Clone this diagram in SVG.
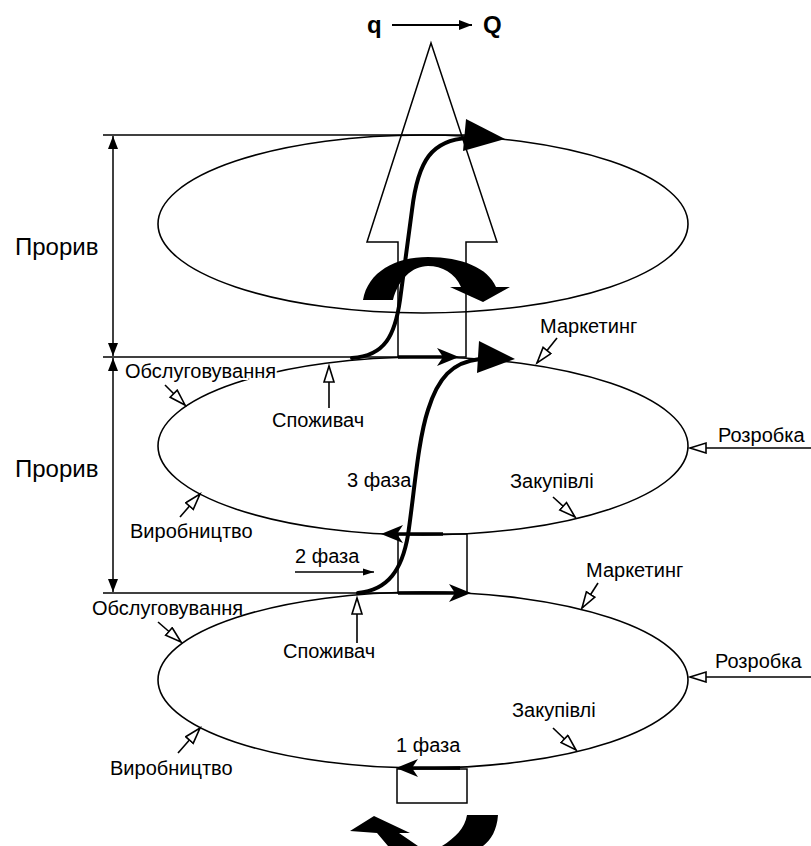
<svg xmlns="http://www.w3.org/2000/svg" width="811" height="846" viewBox="0 0 811 846">
<style>
text{font-family:"Liberation Sans",Arial,sans-serif;font-size:20px;fill:#000}
.big{font-size:24px}
.bold{font-weight:bold;font-size:24px}
.halo{stroke:#fff;stroke-width:4;paint-order:stroke}
.thin{fill:none;stroke:#000;stroke-width:1.5}
.ell{fill:none;stroke:#000;stroke-width:1.6}
.thick{fill:none;stroke:#000;stroke-width:4;stroke-linecap:round}
.hthick{fill:none;stroke:#000;stroke-width:3.5}
.ptr{fill:none;stroke:#000;stroke-width:1.6;marker-end:url(#hollow)}
.dim{fill:none;stroke:#000;stroke-width:1.5;marker-start:url(#solid);marker-end:url(#solid)}
.blk{fill:#000;stroke:none}
</style>
<defs>
<marker id="hollow" markerUnits="userSpaceOnUse" markerWidth="20" markerHeight="14" refX="17" refY="6" orient="auto">
<path d="M1,1 L17,6 L1,11 Z" fill="#fff" stroke="#000" stroke-width="1.6"/>
</marker>
<marker id="solid" markerUnits="userSpaceOnUse" markerWidth="14" markerHeight="10" refX="13" refY="5" orient="auto-start-reverse">
<path d="M0,0 L13,5 L0,10 Z" fill="#000"/>
</marker>
<marker id="small" markerUnits="userSpaceOnUse" markerWidth="12" markerHeight="8" refX="11" refY="4" orient="auto">
<path d="M0,0.5 L11,4 L0,7.5 Z" fill="#000"/>
</marker>
</defs>

<g id="title">
<text class="bold" x="367" y="33">q</text>
<text class="bold" x="483" y="33">Q</text>
<line x1="392" y1="25" x2="472" y2="25" stroke="#000" stroke-width="1.8" marker-end="url(#solid)"/>
</g>

<g id="ellipse-top"><ellipse class="ell" cx="423" cy="224" rx="265" ry="89"/></g>
<g id="ellipse-mid"><ellipse class="ell" cx="423" cy="446" rx="265" ry="89"/></g>
<g id="ellipse-bot"><ellipse class="ell" cx="423" cy="680" rx="265" ry="88"/></g>

<g id="big-arrow">
<polygon class="thin" points="431,43 497,242 466,242 466,357 398,357 398,242 367,242"/>
</g>
<g id="rect-mid"><rect class="thin" x="398" y="534" width="69" height="59"/></g>
<g id="rect-bot"><rect class="thin" x="397" y="769" width="70" height="34"/></g>

<g id="labels">
<text class="big" x="15" y="255">Прорив</text>
<text class="big" x="15" y="477">Прорив</text>
<text class="halo" x="125" y="378">Обслуговування</text>
<text x="272" y="427">Споживач</text>
<text x="540" y="333">Маркетинг</text>
<text x="718" y="442">Розробка</text>
<text x="347" y="487">3 фаза</text>
<text x="510" y="488">Закупівлі</text>
<text x="130" y="538">Виробництво</text>
<text x="295" y="563">2 фаза</text>
<text x="586" y="577">Маркетинг</text>
<text x="92" y="615">Обслуговування</text>
<text x="283" y="658">Споживач</text>
<text x="715" y="668">Розробка</text>
<text x="512" y="717">Закупівлі</text>
<text x="396" y="752">1 фаза</text>
<text x="110" y="775">Виробництво</text>
</g>

<g id="connectors">
<line class="thin" x1="103" y1="135" x2="466" y2="135"/>
<line class="thin" x1="103" y1="357" x2="398" y2="357"/>
<line class="thin" x1="103" y1="593" x2="398" y2="593"/>
<line class="dim" x1="113" y1="136" x2="113" y2="356"/>
<line class="dim" x1="113" y1="358" x2="113" y2="592"/>
<path class="thick" d="M352,358 C385,356 395,335 400,300 L412,210 C418,160 432,140 468,138"/>
<path class="blk" d="M466,119 L505,139 L463,151 Z"/>
<path class="thick" d="M358,593 C388,590 402,570 408,535 C414,495 418,440 428,410 C438,378 452,362 480,359"/>
<path class="blk" d="M479,341 L515,359 L477,373 Z"/>
<line class="hthick" x1="398" y1="357" x2="452" y2="357"/>
<path class="blk" d="M459,357 L437,348 L443,357 L437,366 Z"/>
<line class="hthick" x1="398" y1="593" x2="464" y2="593"/>
<path class="blk" d="M471,593 L449,584 L455,593 L449,602 Z"/>
<line class="hthick" x1="443" y1="534" x2="388" y2="534"/>
<path class="blk" d="M381,534 L403,525 L397,534 L403,543 Z"/>
<line class="hthick" x1="460" y1="768" x2="403" y2="768"/>
<path class="blk" d="M396,768 L418,759 L412,768 L418,777 Z"/>
<line x1="295" y1="572" x2="374" y2="572" stroke="#000" stroke-width="1.3" marker-end="url(#small)"/>
<path class="blk" d="M363,300 C368,272 395,257 428,257 C462,257 488,268 496,287 L510,287 L483,302 L450,287 L461,287 C455,273 442,266 428,266 C412,266 398,280 393,300 Z"/>
<path class="blk" d="M350,831 L374,816 L410,833 L399,833 L418,846 L388,846 L377,833 Z"/>
<path class="blk" d="M467,815 L498,815 C497,830 491,840 483,846 L442,846 C455,838 465,828 467,815 Z"/>
<line class="ptr" x1="557" y1="338" x2="537" y2="363"/>
<line class="ptr" x1="811" y1="448" x2="690" y2="448"/>
<line class="ptr" x1="165" y1="385" x2="185" y2="405"/>
<line class="ptr" x1="329" y1="408" x2="329" y2="366"/>
<line class="ptr" x1="553" y1="497" x2="575" y2="517"/>
<line class="ptr" x1="180" y1="517" x2="200" y2="494"/>
<line class="ptr" x1="598" y1="583" x2="582" y2="608"/>
<line class="ptr" x1="811" y1="677" x2="690" y2="677"/>
<line class="ptr" x1="158" y1="622" x2="181" y2="642"/>
<line class="ptr" x1="357" y1="643" x2="357" y2="598"/>
<line class="ptr" x1="553" y1="728" x2="576" y2="750"/>
<line class="ptr" x1="178" y1="753" x2="200" y2="728"/>
</g>
</svg>
